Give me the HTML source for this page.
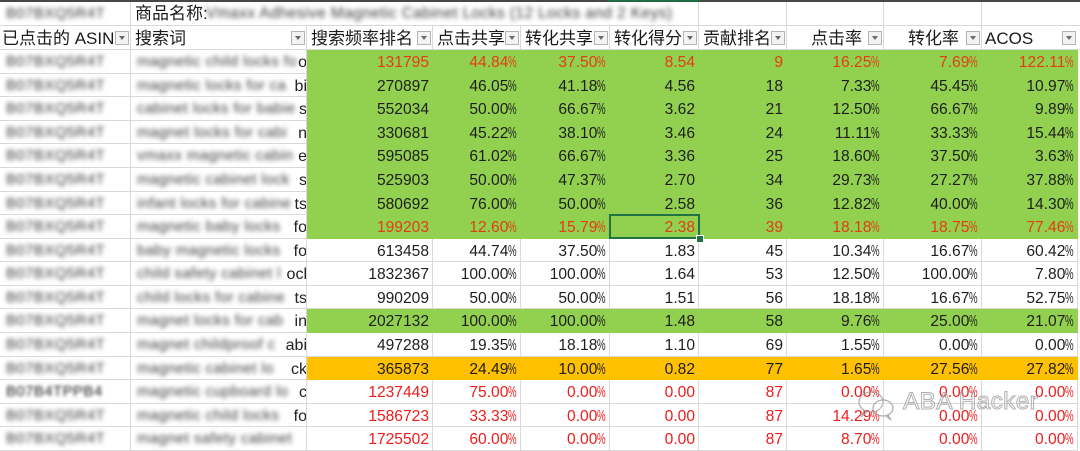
<!DOCTYPE html>
<html><head><meta charset="utf-8">
<style>
body{margin:0;width:1080px;height:451px;overflow:hidden;background:#fff;font-family:"Liberation Sans","Noto Sans CJK SC",sans-serif;position:relative}
.row{position:absolute;left:0;width:1080px;display:flex}
.c{box-sizing:border-box;height:100%;border-right:1px solid #d9d9d9;border-bottom:1px solid #d9d9d9;flex:none;position:relative;overflow:hidden;white-space:nowrap}
.a{width:131px}.b{width:176px}
.n{text-align:right;padding-right:3px;font-size:15.6px;line-height:25px;color:#1e1e1e}
.c3{width:126px}.c4{width:88px}.c5{width:89px}.c6{width:89px}.c7{width:88px}.c8{width:97px}.c9{width:98px}.c10{width:96px}
.g .n{background:#92d050;border-color:#92d050}
.o .n{background:#ffc000;border-color:#ffc000}
.r1 .n{color:#e23d14}
.rr .n{color:#ee1c1c}
.p{display:inline-block;width:8.6px;transform:scaleX(.62);transform-origin:0 50%;text-align:left}
.bl{position:absolute;left:6px;top:0;line-height:24px;font-size:15px;color:#3a3a3a;filter:blur(2.3px);letter-spacing:0.4px}
.tl{position:absolute;right:-1px;top:0;line-height:25px;font-size:16px;color:#222}
.h{position:absolute;font-size:17px;line-height:25px;color:#1a1a1a;white-space:nowrap}
.ln{position:absolute;background:#d9d9d9}
.dd{position:absolute;top:31px;width:14px;height:14px;box-sizing:border-box;border:1px solid #b4b4b4;background:#f3f3f3;z-index:3}
.dd:after{content:"";position:absolute;left:3px;top:4px;border-left:3.5px solid transparent;border-right:3.5px solid transparent;border-top:4px solid #6a6a6a}
.wm{position:absolute;left:903px;top:388px;font-size:24.5px;color:rgba(255,255,255,0.15);-webkit-text-stroke:1px rgba(150,150,150,0.75);letter-spacing:0.3px;z-index:5}
</style></head><body>

<!-- top line -->
<div style="position:absolute;left:0;top:0;width:1080px;height:2px;background:#474747"></div>
<div style="position:absolute;left:608px;top:0;width:92px;height:2px;background:#1f6b43"></div>

<!-- header grid lines -->
<div class="ln" style="left:130px;top:2px;width:1px;height:48px"></div>
<div class="ln" style="left:0;top:25px;width:1080px;height:1px"></div>
<div class="ln" style="left:0;top:49px;width:1080px;height:1px"></div>
<div class="ln" style="left:698px;top:2px;width:1px;height:23px"></div>
<div class="ln" style="left:786px;top:2px;width:1px;height:48px"></div>
<div class="ln" style="left:883px;top:2px;width:1px;height:48px"></div>
<div class="ln" style="left:981px;top:2px;width:1px;height:48px"></div>
<div class="ln" style="left:306px;top:25px;width:1px;height:25px"></div>
<div class="ln" style="left:432px;top:25px;width:1px;height:25px"></div>
<div class="ln" style="left:520px;top:25px;width:1px;height:25px"></div>
<div class="ln" style="left:609px;top:25px;width:1px;height:25px"></div>
<div class="ln" style="left:698px;top:25px;width:1px;height:25px"></div>

<!-- row 1 -->
<div class="bl" style="left:6px;top:2px;line-height:23px">B07BXQ5R4T</div>
<div class="h" style="left:135px;top:1px">商品名称:</div>
<div class="bl" style="left:206px;top:2px;line-height:23px;font-size:15.5px">Vmaxx Adhesive Magnetic Cabinet Locks (12 Locks and 2 Keys)</div>

<!-- row 2 headers -->
<div class="h" style="left:2px;top:26px">已点击的 ASIN</div>
<div class="h" style="left:135px;top:26px">搜索词</div>
<div class="h" style="left:311px;top:26px">搜索频率排名</div>
<div class="h" style="left:437px;top:26px">点击共享</div>
<div class="h" style="left:525px;top:26px">转化共享</div>
<div class="h" style="left:614px;top:26px">转化得分</div>
<div class="h" style="left:703px;top:26px">贡献排名</div>
<div class="h" style="left:811px;top:26px">点击率</div>
<div class="h" style="left:908px;top:26px">转化率</div>
<div class="h" style="left:985px;top:26px">ACOS</div>

<div class="dd" style="left:115px"></div>
<div class="dd" style="left:291px"></div>
<div class="dd" style="left:417px"></div>
<div class="dd" style="left:505px"></div>
<div class="dd" style="left:594px"></div>
<div class="dd" style="left:683px"></div>
<div class="dd" style="left:771px"></div>
<div class="dd" style="left:868px"></div>
<div class="dd" style="left:966px"></div>
<div class="dd" style="left:1062px"></div>

<!-- data rows -->
<div class="row g r1" style="top:50px;height:24px">
<div class="c a"><span class="bl">B07BXQ5R4T</span></div>
<div class="c b"><span class="bl">magnetic child locks fo</span><span class="tl">o</span></div>
<div class="c n c3">131795</div><div class="c n c4">44.84<span class="p">%</span></div><div class="c n c5">37.50<span class="p">%</span></div><div class="c n c6">8.54</div><div class="c n c7">9</div><div class="c n c8">16.25<span class="p">%</span></div><div class="c n c9">7.69<span class="p">%</span></div><div class="c n c10">122.11<span class="p">%</span></div>
</div>

<div class="row g" style="top:74px;height:23px">
<div class="c a"><span class="bl">B07BXQ5R4T</span></div>
<div class="c b"><span class="bl">magnetic locks for ca</span><span class="tl">bi</span></div>
<div class="c n c3">270897</div><div class="c n c4">46.05<span class="p">%</span></div><div class="c n c5">41.18<span class="p">%</span></div><div class="c n c6">4.56</div><div class="c n c7">18</div><div class="c n c8">7.33<span class="p">%</span></div><div class="c n c9">45.45<span class="p">%</span></div><div class="c n c10">10.97<span class="p">%</span></div>
</div>

<div class="row g" style="top:97px;height:24px">
<div class="c a"><span class="bl">B07BXQ5R4T</span></div>
<div class="c b"><span class="bl">cabinet locks for babie</span><span class="tl">s</span></div>
<div class="c n c3">552034</div><div class="c n c4">50.00<span class="p">%</span></div><div class="c n c5">66.67<span class="p">%</span></div><div class="c n c6">3.62</div><div class="c n c7">21</div><div class="c n c8">12.50<span class="p">%</span></div><div class="c n c9">66.67<span class="p">%</span></div><div class="c n c10">9.89<span class="p">%</span></div>
</div>

<div class="row g" style="top:121px;height:23px">
<div class="c a"><span class="bl">B07BXQ5R4T</span></div>
<div class="c b"><span class="bl">magnet locks for cabi</span><span class="tl">n</span></div>
<div class="c n c3">330681</div><div class="c n c4">45.22<span class="p">%</span></div><div class="c n c5">38.10<span class="p">%</span></div><div class="c n c6">3.46</div><div class="c n c7">24</div><div class="c n c8">11.11<span class="p">%</span></div><div class="c n c9">33.33<span class="p">%</span></div><div class="c n c10">15.44<span class="p">%</span></div>
</div>

<div class="row g" style="top:144px;height:24px">
<div class="c a"><span class="bl">B07BXQ5R4T</span></div>
<div class="c b"><span class="bl">vmaxx magnetic cabin</span><span class="tl">e</span></div>
<div class="c n c3">595085</div><div class="c n c4">61.02<span class="p">%</span></div><div class="c n c5">66.67<span class="p">%</span></div><div class="c n c6">3.36</div><div class="c n c7">25</div><div class="c n c8">18.60<span class="p">%</span></div><div class="c n c9">37.50<span class="p">%</span></div><div class="c n c10">3.63<span class="p">%</span></div>
</div>

<div class="row g" style="top:168px;height:24px">
<div class="c a"><span class="bl">B07BXQ5R4T</span></div>
<div class="c b"><span class="bl">magnetic cabinet lock</span><span class="tl">s</span></div>
<div class="c n c3">525903</div><div class="c n c4">50.00<span class="p">%</span></div><div class="c n c5">47.37<span class="p">%</span></div><div class="c n c6">2.70</div><div class="c n c7">34</div><div class="c n c8">29.73<span class="p">%</span></div><div class="c n c9">27.27<span class="p">%</span></div><div class="c n c10">37.88<span class="p">%</span></div>
</div>

<div class="row g" style="top:192px;height:23px">
<div class="c a"><span class="bl">B07BXQ5R4T</span></div>
<div class="c b"><span class="bl">infant locks for cabine</span><span class="tl">ts</span></div>
<div class="c n c3">580692</div><div class="c n c4">76.00<span class="p">%</span></div><div class="c n c5">50.00<span class="p">%</span></div><div class="c n c6">2.58</div><div class="c n c7">36</div><div class="c n c8">12.82<span class="p">%</span></div><div class="c n c9">40.00<span class="p">%</span></div><div class="c n c10">14.30<span class="p">%</span></div>
</div>

<div class="row g r1" style="top:215px;height:24px">
<div class="c a"><span class="bl">B07BXQ5R4T</span></div>
<div class="c b"><span class="bl">magnetic baby locks</span><span class="tl">fo</span></div>
<div class="c n c3">199203</div><div class="c n c4">12.60<span class="p">%</span></div><div class="c n c5">15.79<span class="p">%</span></div><div class="c n c6">2.38</div><div class="c n c7">39</div><div class="c n c8">18.18<span class="p">%</span></div><div class="c n c9">18.75<span class="p">%</span></div><div class="c n c10">77.46<span class="p">%</span></div>
</div>

<div class="row" style="top:239px;height:23px">
<div class="c a"><span class="bl">B07BXQ5R4T</span></div>
<div class="c b"><span class="bl">baby magnetic locks</span><span class="tl">fo</span></div>
<div class="c n c3">613458</div><div class="c n c4">44.74<span class="p">%</span></div><div class="c n c5">37.50<span class="p">%</span></div><div class="c n c6">1.83</div><div class="c n c7">45</div><div class="c n c8">10.34<span class="p">%</span></div><div class="c n c9">16.67<span class="p">%</span></div><div class="c n c10">60.42<span class="p">%</span></div>
</div>

<div class="row" style="top:262px;height:24px">
<div class="c a"><span class="bl">B07BXQ5R4T</span></div>
<div class="c b"><span class="bl">child safety cabinet l</span><span class="tl">ocl</span></div>
<div class="c n c3">1832367</div><div class="c n c4">100.00<span class="p">%</span></div><div class="c n c5">100.00<span class="p">%</span></div><div class="c n c6">1.64</div><div class="c n c7">53</div><div class="c n c8">12.50<span class="p">%</span></div><div class="c n c9">100.00<span class="p">%</span></div><div class="c n c10">7.80<span class="p">%</span></div>
</div>

<div class="row" style="top:286px;height:23px">
<div class="c a"><span class="bl">B07BXQ5R4T</span></div>
<div class="c b"><span class="bl">child locks for cabine</span><span class="tl">ts</span></div>
<div class="c n c3">990209</div><div class="c n c4">50.00<span class="p">%</span></div><div class="c n c5">50.00<span class="p">%</span></div><div class="c n c6">1.51</div><div class="c n c7">56</div><div class="c n c8">18.18<span class="p">%</span></div><div class="c n c9">16.67<span class="p">%</span></div><div class="c n c10">52.75<span class="p">%</span></div>
</div>

<div class="row g" style="top:309px;height:24px">
<div class="c a"><span class="bl">B07BXQ5R4T</span></div>
<div class="c b"><span class="bl">magnet locks for cab</span><span class="tl">in</span></div>
<div class="c n c3">2027132</div><div class="c n c4">100.00<span class="p">%</span></div><div class="c n c5">100.00<span class="p">%</span></div><div class="c n c6">1.48</div><div class="c n c7">58</div><div class="c n c8">9.76<span class="p">%</span></div><div class="c n c9">25.00<span class="p">%</span></div><div class="c n c10">21.07<span class="p">%</span></div>
</div>

<div class="row" style="top:333px;height:24px">
<div class="c a"><span class="bl">B07BXQ5R4T</span></div>
<div class="c b"><span class="bl">magnet childproof c</span><span class="tl">abi</span></div>
<div class="c n c3">497288</div><div class="c n c4">19.35<span class="p">%</span></div><div class="c n c5">18.18<span class="p">%</span></div><div class="c n c6">1.10</div><div class="c n c7">69</div><div class="c n c8">1.55<span class="p">%</span></div><div class="c n c9">0.00<span class="p">%</span></div><div class="c n c10">0.00<span class="p">%</span></div>
</div>

<div class="row o" style="top:357px;height:23px">
<div class="c a"><span class="bl">B07BXQ5R4T</span></div>
<div class="c b"><span class="bl">magnetic cabinet lo</span><span class="tl">ck</span></div>
<div class="c n c3">365873</div><div class="c n c4">24.49<span class="p">%</span></div><div class="c n c5">10.00<span class="p">%</span></div><div class="c n c6">0.82</div><div class="c n c7">77</div><div class="c n c8">1.65<span class="p">%</span></div><div class="c n c9">27.56<span class="p">%</span></div><div class="c n c10">27.82<span class="p">%</span></div>
</div>

<div class="row rr" style="top:380px;height:24px">
<div class="c a"><span class="bl" style="color:#1a1a1a;filter:blur(1.8px)">B07B4TPPB4</span></div>
<div class="c b"><span class="bl">magnetic cupboard lo</span><span class="tl">c</span></div>
<div class="c n c3">1237449</div><div class="c n c4">75.00<span class="p">%</span></div><div class="c n c5">0.00<span class="p">%</span></div><div class="c n c6">0.00</div><div class="c n c7">87</div><div class="c n c8">0.00<span class="p">%</span></div><div class="c n c9">0.00<span class="p">%</span></div><div class="c n c10">0.00<span class="p">%</span></div>
</div>

<div class="row rr" style="top:404px;height:23px">
<div class="c a"><span class="bl">B07BXQ5R4T</span></div>
<div class="c b"><span class="bl">magnetic child locks</span><span class="tl">fo</span></div>
<div class="c n c3">1586723</div><div class="c n c4">33.33<span class="p">%</span></div><div class="c n c5">0.00<span class="p">%</span></div><div class="c n c6">0.00</div><div class="c n c7">87</div><div class="c n c8">14.29<span class="p">%</span></div><div class="c n c9">0.00<span class="p">%</span></div><div class="c n c10">0.00<span class="p">%</span></div>
</div>

<div class="row rr" style="top:427px;height:24px">
<div class="c a"><span class="bl">B07BXQ5R4T</span></div>
<div class="c b"><span class="bl">magnet safety cabinet</span></div>
<div class="c n c3">1725502</div><div class="c n c4">60.00<span class="p">%</span></div><div class="c n c5">0.00<span class="p">%</span></div><div class="c n c6">0.00</div><div class="c n c7">87</div><div class="c n c8">8.70<span class="p">%</span></div><div class="c n c9">0.00<span class="p">%</span></div><div class="c n c10">0.00<span class="p">%</span></div>
</div>

<!-- selected cell -->
<div style="position:absolute;left:609px;top:214px;width:91px;height:25px;box-sizing:border-box;border:2px solid #217346;z-index:4"></div>
<div style="position:absolute;left:696px;top:235px;width:6px;height:6px;background:#217346;border:1px solid #fff;z-index:5"></div>

<!-- watermark -->
<svg style="position:absolute;left:856px;top:390px;z-index:5" width="44" height="32" viewBox="0 0 44 32">
<ellipse cx="15" cy="12" rx="12" ry="10" fill="none" stroke="rgba(150,150,150,0.75)" stroke-width="1.3"/>
<path d="M8 20 L6 26 L12 21" fill="none" stroke="rgba(150,150,150,0.75)" stroke-width="1.3"/>
<ellipse cx="27" cy="18" rx="10" ry="8" fill="rgba(255,255,255,0.2)" stroke="rgba(150,150,150,0.75)" stroke-width="1.3"/>
<path d="M32 25 L35 30 L30 26" fill="none" stroke="rgba(150,150,150,0.75)" stroke-width="1.3"/>
</svg>
<div class="wm">ABA Hacker</div>

</body></html>
